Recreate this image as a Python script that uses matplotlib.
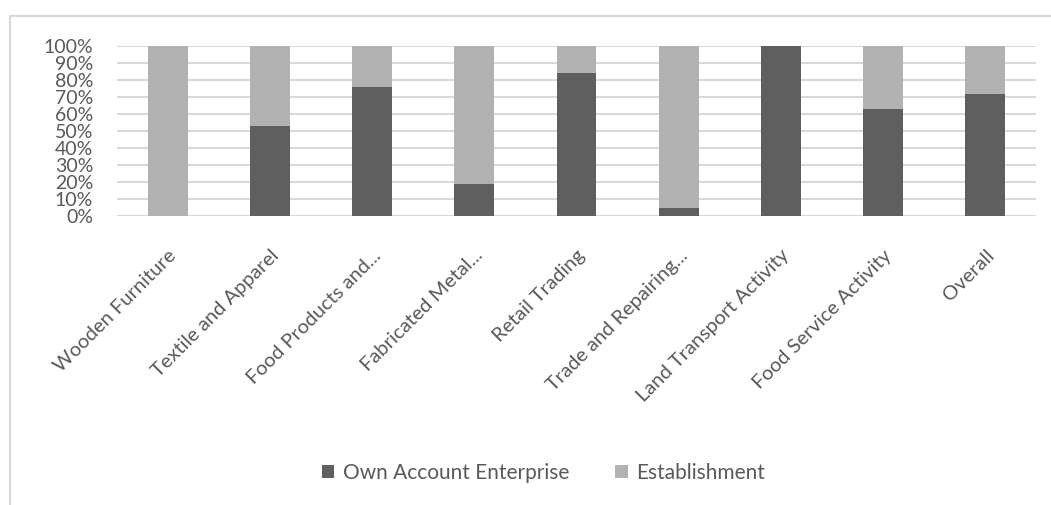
import numpy as np
import matplotlib.pyplot as plt
from matplotlib.patches import Rectangle
from matplotlib.ticker import PercentFormatter

categories = ["Wooden Furniture", "Textile and Apparel", "Food Products and...",
              "Fabricated Metal...", "Retail Trading", "Trade and Repairing...",
              "Land Transport Activity", "Food Service Activity", "Overall"]
own_account = [0.0, 0.53, 0.76, 0.19, 0.84, 0.05, 1.0, 0.63, 0.72]
establishment = [1 - v for v in own_account]

plt.rcParams['font.family'] = ['Lato', 'DejaVu Sans']

fig = plt.figure(figsize=(10.51, 5.05), dpi=100)
ax = fig.add_axes([0.111, 0.572, 0.875, 0.337])

# outer frame like the exported chart
fig.patches.append(Rectangle((0.0095, -0.02), 1.2, 0.988, transform=fig.transFigure,
                             fill=False, edgecolor='#d9d9d9', linewidth=1.5))

x = np.arange(len(categories))
ax.bar(x, own_account, width=0.39, color='#5f5f5f', label='Own Account Enterprise', zorder=3)
ax.bar(x, establishment, width=0.39, bottom=own_account, color='#b2b2b2',
       label='Establishment', zorder=3)

ax.set_xlim(-0.5, len(categories) - 0.5)
ax.set_ylim(0, 1)
ax.set_yticks(np.linspace(0, 1, 11))
ax.yaxis.set_major_formatter(PercentFormatter(1.0, decimals=0))
ax.grid(axis='y', color='#d9d9d9', linewidth=1.5, zorder=0)
for s in ax.spines.values():
    s.set_visible(False)
ax.tick_params(axis='both', length=0, colors='#595959')
ax.tick_params(axis='y', pad=17, labelsize=14)
ax.set_xticks(x)
ax.set_xticklabels(categories, rotation=45, ha='right', rotation_mode='anchor')
ax.tick_params(axis='x', pad=22, labelsize=14.5)

fig.legend(loc='center', bbox_to_anchor=(0.517, 0.063), ncol=2, frameon=False,
           fontsize=15, handlelength=0.6, handleheight=0.6, columnspacing=2.2,
           handletextpad=0.4, labelcolor='#595959')

fig.savefig('out.png', dpi=100)
